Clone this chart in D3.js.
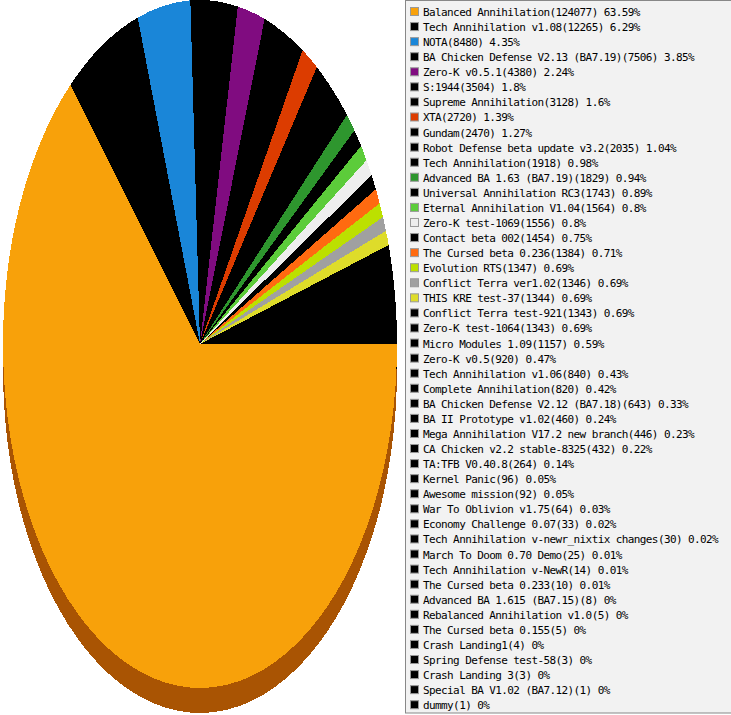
<!DOCTYPE html>
<html>
<head>
<meta charset="utf-8">
<script src="https://cdn.jsdelivr.net/npm/d3@7"></script>
<style>
  body { margin: 0; background: #fff; }
  svg { display: block; }
  .slice { shape-rendering: crispEdges; }
  .legend-text { font-family: "DejaVu Sans Mono", monospace; font-size: 11px; letter-spacing: -0.6px; fill: #000; }
</style>
</head>
<body>
<div id="chart"></div>
<script>
// mod names, in the order the slices are drawn (largest first)
var mods = [
    "Balanced Annihilation", "Tech Annihilation v1.08", "NOTA",
    "BA Chicken Defense V2.13 (BA7.19)", "Zero-K v0.5.1", "S:1944",
    "Supreme Annihilation", "XTA", "Gundam", "Robot Defense beta update v3.2",
    "Tech Annihilation", "Advanced BA 1.63 (BA7.19)", "Universal Annihilation RC3",
    "Eternal Annihilation V1.04", "Zero-K test-1069", "Contact beta 002",
    "The Cursed beta 0.236", "Evolution RTS", "Conflict Terra ver1.02",
    "THIS KRE test-37", "Conflict Terra test-921", "Zero-K test-1064",
    "Micro Modules 1.09", "Zero-K v0.5", "Tech Annihilation v1.06",
    "Complete Annihilation", "BA Chicken Defense V2.12 (BA7.18)",
    "BA II Prototype v1.02", "Mega Annihilation V17.2 new branch",
    "CA Chicken v2.2 stable-8325", "TA:TFB V0.40.8", "Kernel Panic",
    "Awesome mission", "War To Oblivion v1.75", "Economy Challenge 0.07",
    "Tech Annihilation v-newr_nixtix changes", "March To Doom 0.70 Demo",
    "Tech Annihilation v-NewR", "The Cursed beta 0.233", "Advanced BA 1.615 (BA7.15)",
    "Rebalanced Annihilation v1.0", "The Cursed beta 0.155", "Crash Landing1",
    "Spring Defense test-58", "Crash Landing 3", "Special BA V1.02 (BA7.12)", "dummy"
];

// number of games per mod
var games = [
    124077, 12265, 8480, 7506, 4380, 3504, 3128, 2720, 2470, 2035,
    1918, 1829, 1743, 1564, 1556, 1454, 1384, 1347, 1346, 1344,
    1343, 1343, 1157, 920, 840, 820, 643, 460, 446, 432,
    264, 96, 92, 64, 33, 30, 25, 14, 10, 8,
    5, 5, 4, 3, 3, 1, 1
];

// slice colours, everything not listed is black
var sliceColors = {
    "Balanced Annihilation": "#f8a10a",
    "NOTA": "#1a86d8",
    "Zero-K v0.5.1": "#800c80",
    "XTA": "#dc3c00",
    "Advanced BA 1.63 (BA7.19)": "#2e962e",
    "Eternal Annihilation V1.04": "#5ccc3a",
    "Zero-K test-1069": "#eeeeee",
    "The Cursed beta 0.236": "#ff6a10",
    "Evolution RTS": "#bce000",
    "Conflict Terra ver1.02": "#a0a0a0",
    "THIS KRE test-37": "#dedc2a"
};

var width = 731, height = 715;
var cx = 200, cy = 344;      // centre of the pie face
var rx = 197, ry = 344;      // the pie is a squashed circle
var depth = 25;              // thickness of the pie side

function colorOf(name) {
    return sliceColors[name] || "#000000";
}

// darker tone used for the side of the pie
function shade(c) {
    var rgb = d3.rgb(c);
    return d3.rgb(rgb.r * 0.68, rgb.g * 0.52, rgb.b * 0.3).formatHex();
}

// percent like "63.59%", "1.8%" or "0%"
function percent(v, total) {
    return (Math.round(v / total * 10000) / 100) + "%";
}

function createPie(svg, data) {
    var pie = d3.pie()
        .sort(null)
        .value(function(d) { return d.value; })
        .startAngle(Math.PI / 2)
        .endAngle(Math.PI / 2 + 2 * Math.PI);

    // arcs are drawn on a unit circle and stretched to the ellipse
    var arc = d3.arc().innerRadius(0).outerRadius(1);
    var arcs = pie(data);

    // side of the pie, shifted down
    svg.append("rect")
        .attr("class", "slice")
        .attr("x", cx - rx)
        .attr("y", cy)
        .attr("width", 2 * rx)
        .attr("height", depth)
        .attr("fill", shade(colorOf(data[0].name)));
    var side = svg.append("g")
        .attr("transform", "translate(" + cx + "," + (cy + depth) + ") scale(" + rx + "," + ry + ")");
    side.selectAll("path")
        .data(arcs)
        .enter().append("path")
        .attr("class", "slice")
        .attr("d", arc)
        .attr("fill", function(d) { return shade(colorOf(d.data.name)); });

    // top face
    var face = svg.append("g")
        .attr("transform", "translate(" + cx + "," + cy + ") scale(" + rx + "," + ry + ")");
    face.selectAll("path")
        .data(arcs)
        .enter().append("path")
        .attr("class", "slice")
        .attr("d", arc)
        .attr("fill", function(d) { return colorOf(d.data.name); });
}

function createLegend(svg, data, total) {
    var left = 405.5, top = 0.5, rowH = 15.07;

    svg.append("rect")
        .attr("x", left)
        .attr("y", top)
        .attr("width", 340)
        .attr("height", 712.5)
        .attr("fill", "#f2f2f2")
        .attr("stroke", "#888");

    var rows = svg.append("g").selectAll("g")
        .data(data)
        .enter().append("g")
        .attr("transform", function(d, i) { return "translate(0," + (i * rowH) + ")"; });

    rows.append("rect")
        .attr("x", 410.5)
        .attr("y", 7.5)
        .attr("width", 8)
        .attr("height", 8)
        .attr("fill", function(d) { return colorOf(d.name); })
        .attr("stroke", "#999");

    rows.append("text")
        .attr("class", "legend-text")
        .attr("x", 423)
        .attr("y", 16)
        .text(function(d) { return d.name + "(" + d.value + ") " + percent(d.value, total); });
}

var data = mods.map(function(m, i) { return {name: m, value: games[i]}; });
var total = d3.sum(games);

var svg = d3.select("#chart").append("svg")
    .attr("width", width)
    .attr("height", height);

createPie(svg, data);
createLegend(svg, data, total);
</script>
</body>
</html>
